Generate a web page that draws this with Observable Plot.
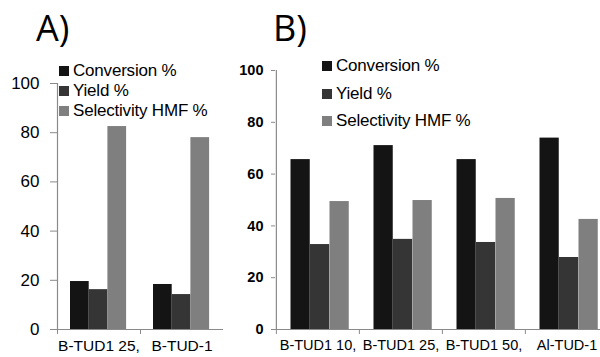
<!DOCTYPE html>
<html><head>
<meta charset="utf-8">
<script src="https://cdn.jsdelivr.net/npm/d3@7"></script>
<script src="https://cdn.jsdelivr.net/npm/@observablehq/plot@0.6"></script>
<style>
body{margin:0;background:#fff;font-family:"Liberation Sans",Arial,sans-serif;}
#wrap{position:relative;width:600px;height:357px;overflow:hidden;background:#fff;}
.panel{position:absolute;top:0;}
.title{position:absolute;font-family:"Open Sans",sans-serif;font-size:36px;line-height:36px;color:#000;}
.leg{position:absolute;font-size:17px;line-height:17px;white-space:nowrap;color:#000;letter-spacing:-0.2px;}
.leg span.sw{display:inline-block;width:10px;height:10px;margin-right:4px;vertical-align:0px;}
</style>
</head><body>
<div id="wrap"></div>
<script>
const seriesNames = ["Conversion %", "Yield %", "Selectivity HMF %"];
const seriesColors = ["#141414", "#353535", "#7f7f7f"];
const yTicks = [0, 20, 40, 60, 80, 100];

const groupsA = ["B-TUD1 25,", "B-TUD-1"];
const conversionA = [19.5, 18.3];
const yieldA = [16.2, 14.2];
const selectivityA = [82.5, 78];

const groupsB = ["B-TUD1 10,", "B-TUD1 25,", "B-TUD1 50,", "Al-TUD-1"];
const conversionB = [65.6, 71, 65.6, 73.9];
const yieldB = [32.8, 34.8, 33.6, 27.8];
const selectivityB = [49.4, 49.8, 50.6, 42.5];

function makePanel(cfg) {
  const {groups, values, width, height, ml, mr, mt, mb, off, bw, tickFont, tickWeight, tickSize, tickPadding, labelFont} = cfg;
  const rows = [];
  groups.forEach((g, i) => values.forEach((arr, s) => rows.push({group: g, series: seriesNames[s], value: arr[i]})));
  const band = (width - ml - mr) / groups.length;
  const bars = seriesNames.map((name, s) =>
    Plot.barY(rows.filter(d => d.series === name), {
      x: "group", y: "value", fill: seriesColors[s],
      insetLeft: off + s * bw, insetRight: band - off - (s + 1) * bw
    })
  );
  return Plot.plot({
    width, height,
    marginLeft: ml, marginRight: mr, marginTop: mt, marginBottom: mb,
    style: {background: "transparent", fontFamily: "Liberation Sans, Arial, sans-serif", overflow: "visible"},
    x: {domain: groups, padding: 0},
    y: {domain: [0, 100], label: null},
    marks: [
      ...bars,
      Plot.ruleY([0], {stroke: "#8a8a8a", strokeWidth: 1.2}),
      Plot.ruleX([groups[0]], {x: d => d, dx: -band / 2, y1: () => 0, y2: () => 100, stroke: "#8a8a8a", strokeWidth: 1.2}),
      Plot.axisY({ticks: yTicks, tickSize, tickPadding, fontSize: tickFont, fontWeight: tickWeight, stroke: "#8a8a8a", fill: "#000", label: null}),
      Plot.axisX({tickSize: 5, text: null, dx: -band / 2, stroke: "#8a8a8a", label: null}),
      Plot.axisX({tickSize: 0, tickPadding: 10, fontSize: labelFont, fill: "#000", label: null})
    ]
  });
}

const wrap = document.getElementById("wrap");

const pA = makePanel({groups: groupsA, values: [conversionA, yieldA, selectivityA],
  width: 230, height: 357, ml: 57, mr: 7, mt: 83, mb: 28, off: 13, bw: 18.7,
  tickFont: 17, tickWeight: "normal", tickSize: 7, tickPadding: 11, labelFont: 15.5});
pA.classList.add("panel"); pA.style.left = "0px";
wrap.appendChild(pA);

const pB = makePanel({groups: groupsB, values: [conversionB, yieldB, selectivityB],
  width: 378, height: 357, ml: 45, mr: 0, mt: 70, mb: 28, off: 14.5, bw: 19.5,
  tickFont: 14.5, tickWeight: "bold", tickSize: 4, tickPadding: 8, labelFont: 14.5});
pB.classList.add("panel"); pB.style.left = "230px";
wrap.appendChild(pB);

function addTitle(text, left, top) {
  const d = document.createElement("div");
  d.className = "title"; d.textContent = text;
  d.style.left = left + "px"; d.style.top = top + "px";
  wrap.appendChild(d);
}
addTitle("A)", 36, 10);
addTitle("B)", 273, 10);

function addLegend(left, tops) {
  seriesNames.forEach((name, s) => {
    const d = document.createElement("div");
    d.className = "leg";
    d.style.left = left + "px"; d.style.top = tops[s] + "px";
    const sw = document.createElement("span");
    sw.className = "sw"; sw.style.background = seriesColors[s];
    d.appendChild(sw);
    d.appendChild(document.createTextNode(name));
    wrap.appendChild(d);
  });
}
addLegend(59, [62, 82, 102]);
addLegend(322, [57, 85, 112]);
</script>
</body></html>
